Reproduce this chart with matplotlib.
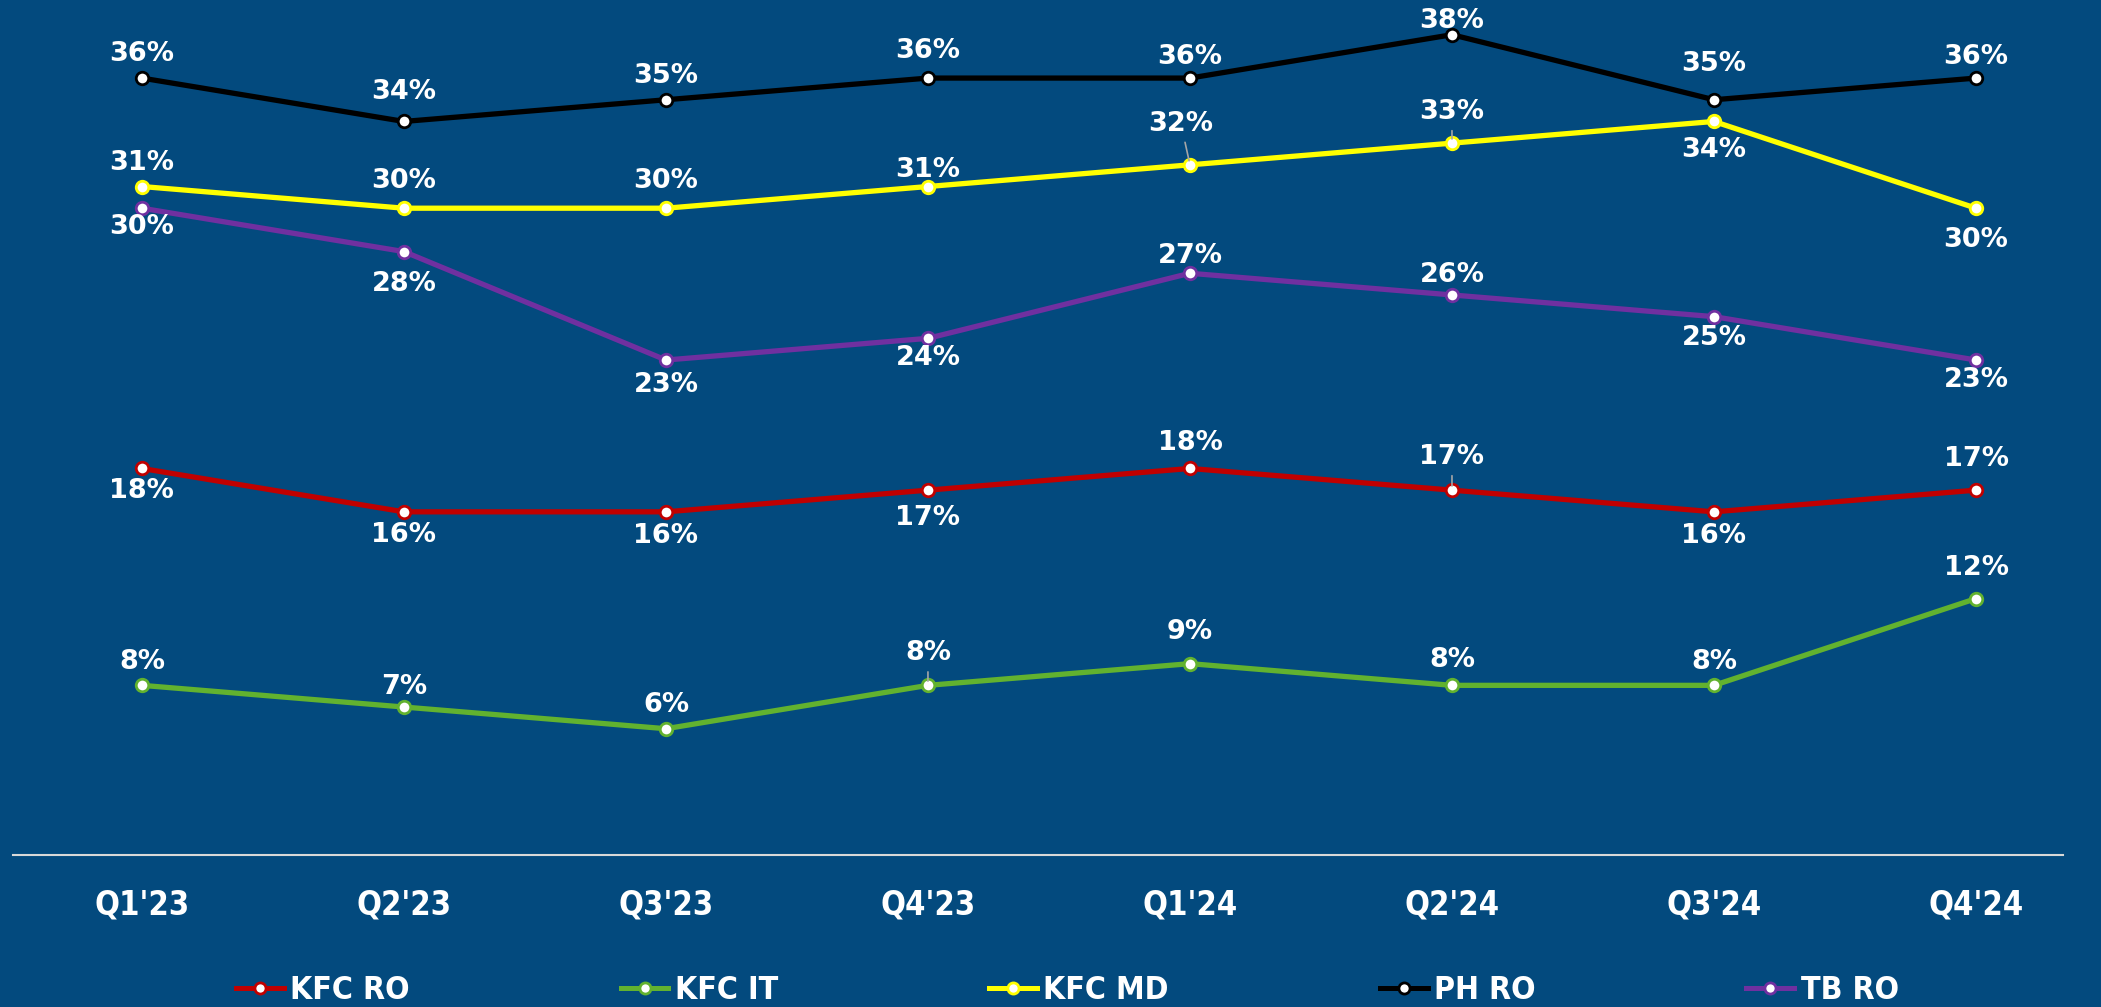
import matplotlib
matplotlib.use("Agg")
import matplotlib.pyplot as plt
from matplotlib.lines import Line2D

# Quarter labels and series values (percent)
quarters = ["Q1'23", "Q2'23", "Q3'23", "Q4'23", "Q1'24", "Q2'24", "Q3'24", "Q4'24"]
kfc_ro = [18, 16, 16, 17, 18, 17, 16, 17]
kfc_it = [8, 7, 6, 8, 9, 8, 8, 12]
kfc_md = [31, 30, 30, 31, 32, 33, 34, 30]
ph_ro = [36, 34, 35, 36, 36, 38, 35, 36]
tb_ro = [30, 28, 23, 24, 27, 26, 25, 23]

series_names = ["KFC RO", "KFC IT", "KFC MD", "PH RO", "TB RO"]
series_values = [kfc_ro, kfc_it, kfc_md, ph_ro, tb_ro]
colors = ["#C00000", "#62B22F", "#FFFF00", "#000000", "#7030A0"]

# label placement: (dx, dy) in pixels from the point, dy>0 is up
label_offsets = [
    [(0, -23), (0, -23), (0, -24), (0, -28), (0, 25), (0, 33), (0, -24), (0, 31)],
    [(0, 23), (0, 20), (0, 24), (0, 32), (0, 32), (0, 25), (0, 23), (0, 31)],
    [(0, 24), (0, 27), (0, 27), (0, 17), (-9, 41), (0, 31), (0, -29), (0, -32)],
    [(0, 24), (0, 29), (0, 24), (0, 27), (0, 21), (0, 14), (0, 36), (0, 21)],
    [(0, -19), (0, -32), (0, -25), (0, -20), (0, 17), (0, 20), (0, -21), (0, -20)],
]
# points whose label is joined to the marker by a thin leader line
leaders = {(0, 5), (1, 3), (2, 4), (2, 5)}

bg = "#034A7E"

fig = plt.figure(figsize=(21.01, 10.07), dpi=100, facecolor=bg)
ax = fig.add_axes([13 / 2101, 0.151, 2050 / 2101, 0.849])
ax.set_facecolor(bg)

x = list(range(len(quarters)))
for s, (name, vals, col) in enumerate(zip(series_names, series_values, colors)):
    ax.plot(x, vals, color=col, lw=3.8, marker="o", ms=9, mfc="white",
            mec=col, mew=2, label=name, zorder=3, solid_capstyle="round")
    for i, v in enumerate(vals):
        dx, dy = label_offsets[s][i]
        kw = {}
        if (s, i) in leaders:
            kw["arrowprops"] = dict(arrowstyle="-", color="#A6A6A6", lw=1.2,
                                    shrinkA=2, shrinkB=3)
        ax.annotate(f"{v}%", (i, v), xytext=(dx, dy), textcoords="offset pixels",
                    ha="center", va="center", color="white", fontsize=19.5,
                    fontweight="heavy", family="DejaVu Sans", zorder=5, **kw)

ax.set_xlim(-0.492, 7.332)
ax.set_ylim(0.18, 39.6)
ax.set_xticks(x)
ax.set_xticklabels(quarters, color="white", fontsize=23.5, fontweight="bold",
                   family="DejaVu Sans", fontstretch="condensed")
ax.tick_params(axis="x", length=0, pad=24)
ax.set_yticks([])
for side in ["top", "left", "right"]:
    ax.spines[side].set_visible(False)
ax.spines["bottom"].set_color("#D9D9D9")
ax.spines["bottom"].set_linewidth(1.5)

handles = [Line2D([0], [0], color=c, lw=3.6, marker="o", ms=8, mfc="white",
                  mec=c, mew=2) for c in colors]
leg = fig.legend(handles, series_names, loc="center", bbox_to_anchor=(0.508, 0.016),
                 ncol=5, frameon=False, handlelength=1.5, handletextpad=0.2,
                 columnspacing=6.6,
                 prop={"family": "DejaVu Sans", "weight": "bold", "size": 23,
                       "stretch": "condensed"})
for t in leg.get_texts():
    t.set_color("white")

fig.savefig("out.png", dpi=100, facecolor=bg)
